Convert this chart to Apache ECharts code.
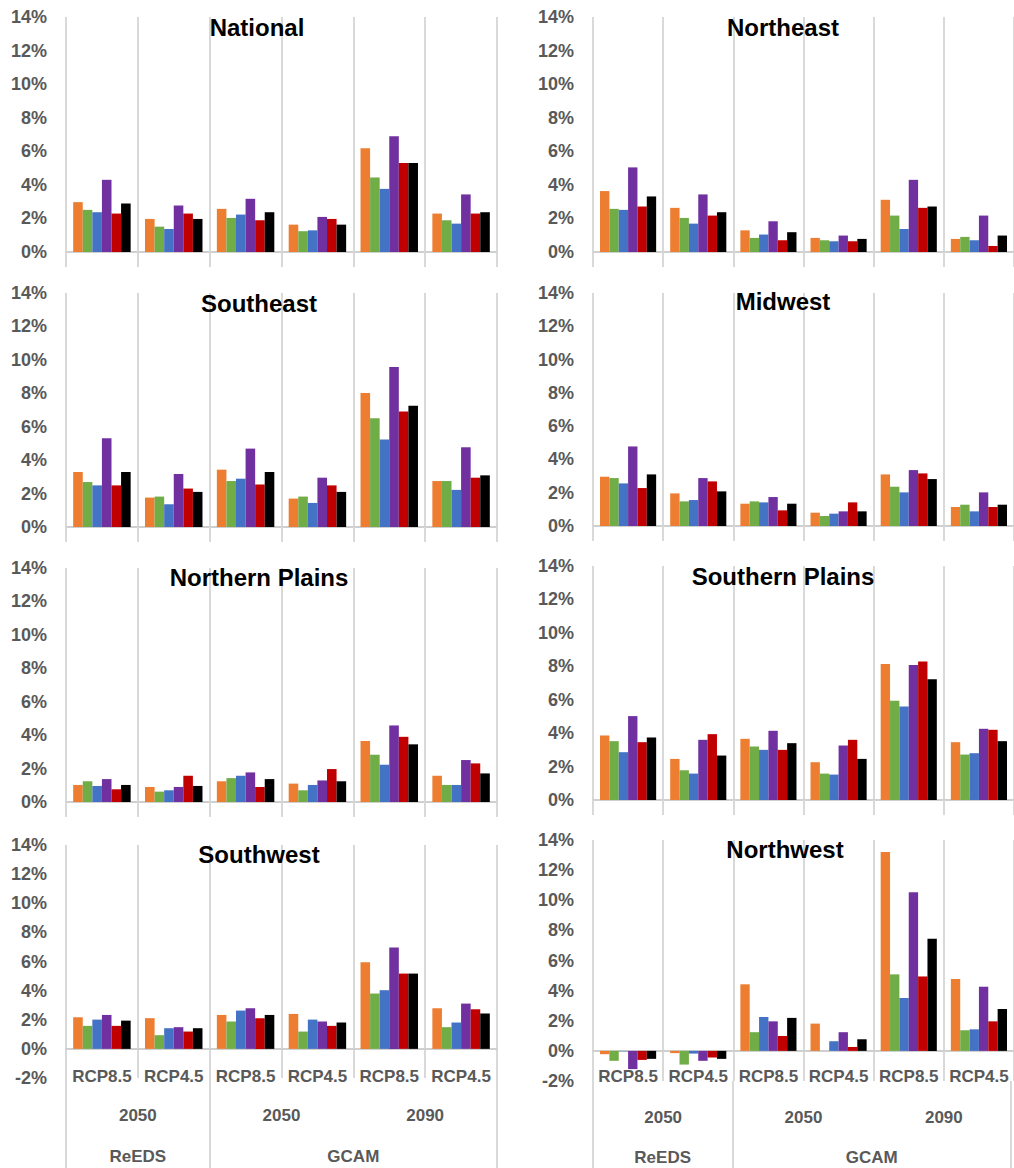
<!DOCTYPE html>
<html>
<head>
<meta charset="utf-8">
<title>Regional changes</title>
<script src="https://cdn.jsdelivr.net/npm/echarts@6.0.0/dist/echarts.min.js"></script>
<style>
  html, body { margin: 0; padding: 0; background: #fff; }
  #main { width: 1014px; height: 1168px; }
</style>
</head>
<body>
<div id="main"></div>
<script>
// category levels
const scenarios = ['RCP8.5', 'RCP4.5', 'RCP8.5', 'RCP4.5', 'RCP8.5', 'RCP4.5'];
const years = ['2050', '2050', '2090'];
const models = ['ReEDS', 'GCAM'];
const modelSpans = [2, 4]; // number of scenario groups under each model

// y ticks (percent)
const yMax = 14;
const yMin = 0;
const yMinLow = -2;
const yStep = 2;

// six bar series per panel, in colour order: orange, green, blue, purple, red, black
// each row = one series across the six scenario groups
const national = [
  [2.97, 1.97, 2.57, 1.63, 6.18, 2.29],
  [2.51, 1.51, 2.03, 1.24, 4.44, 1.89],
  [2.37, 1.37, 2.23, 1.29, 3.76, 1.69],
  [4.30, 2.77, 3.17, 2.09, 6.89, 3.43],
  [2.29, 2.29, 1.89, 1.97, 5.30, 2.29],
  [2.89, 1.97, 2.37, 1.63, 5.30, 2.37]
];
const northeast = [
  [3.63, 2.63, 1.29, 0.84, 3.11, 0.78],
  [2.57, 2.03, 0.84, 0.70, 2.17, 0.90],
  [2.51, 1.69, 1.04, 0.64, 1.37, 0.70],
  [5.04, 3.43, 1.83, 0.98, 4.30, 2.17],
  [2.71, 2.17, 0.70, 0.64, 2.63, 0.36],
  [3.31, 2.37, 1.18, 0.78, 2.71, 0.98]
];
const southeast = [
  [3.29, 1.76, 3.43, 1.70, 8.02, 2.75],
  [2.69, 1.82, 2.75, 1.82, 6.51, 2.75],
  [2.49, 1.36, 2.89, 1.44, 5.23, 2.22],
  [5.31, 3.17, 4.69, 2.95, 9.58, 4.77],
  [2.49, 2.30, 2.55, 2.49, 6.91, 2.95],
  [3.29, 2.10, 3.29, 2.10, 7.25, 3.09]
];
const midwest = [
  [2.96, 1.96, 1.34, 0.80, 3.10, 1.14],
  [2.88, 1.48, 1.48, 0.60, 2.36, 1.28],
  [2.56, 1.56, 1.42, 0.74, 2.02, 0.88],
  [4.78, 2.88, 1.74, 0.88, 3.36, 2.02],
  [2.28, 2.68, 0.94, 1.42, 3.16, 1.14],
  [3.10, 2.08, 1.34, 0.88, 2.82, 1.28]
];
const northernPlains = [
  [1.02, 0.90, 1.24, 1.10, 3.65, 1.57],
  [1.24, 0.62, 1.43, 0.70, 2.83, 1.02],
  [0.96, 0.70, 1.57, 1.02, 2.23, 1.02],
  [1.37, 0.90, 1.77, 1.29, 4.58, 2.51],
  [0.76, 1.57, 0.90, 1.97, 3.90, 2.31],
  [1.02, 0.96, 1.37, 1.24, 3.45, 1.71]
];
const southernPlains = [
  [3.86, 2.46, 3.66, 2.26, 8.14, 3.46],
  [3.52, 1.78, 3.20, 1.58, 5.94, 2.72],
  [2.86, 1.58, 3.00, 1.52, 5.60, 2.80],
  [5.02, 3.60, 4.14, 3.26, 8.08, 4.26],
  [3.46, 3.94, 3.00, 3.60, 8.28, 4.20],
  [3.74, 2.66, 3.40, 2.46, 7.22, 3.52]
];
const southwest = [
  [2.17, 2.11, 2.33, 2.40, 5.95, 2.79],
  [1.58, 0.94, 1.88, 1.19, 3.80, 1.49],
  [2.01, 1.42, 2.63, 2.01, 4.03, 1.81],
  [2.33, 1.49, 2.79, 1.88, 6.96, 3.11],
  [1.58, 1.19, 2.11, 1.58, 5.17, 2.72],
  [1.94, 1.42, 2.33, 1.81, 5.17, 2.43]
];
const northwest = [
  [-0.22, -0.15, 4.42, 1.81, 13.2, 4.77],
  [-0.66, -0.91, 1.24, 0.00, 5.08, 1.37],
  [-0.03, -0.18, 2.25, 0.64, 3.51, 1.43],
  [-1.21, -0.66, 1.96, 1.24, 10.53, 4.26],
  [-0.60, -0.44, 0.99, 0.26, 4.94, 1.96],
  [-0.53, -0.53, 2.19, 0.77, 7.44, 2.78]
];

const panels = [
  { name: 'National', values: national },
  { name: 'Northeast', values: northeast },
  { name: 'Southeast', values: southeast },
  { name: 'Midwest', values: midwest },
  { name: 'Northern Plains', values: northernPlains },
  { name: 'Southern Plains', values: southernPlains },
  { name: 'Southwest', values: southwest },
  { name: 'Northwest', values: northwest }
];

const colors = ['#ED7D31', '#70AD47', '#4472C4', '#7030A0', '#C00000', '#000000'];

// plot rectangles + title centres (px)
const layout = [
  { left: 66, width: 431, top: 17, height: 235, tx: 257, ty: 27 },
  { left: 593, width: 428, top: 17, height: 235, tx: 783, ty: 27 },
  { left: 66, width: 431, top: 293, height: 234, tx: 259, ty: 303 },
  { left: 593, width: 428, top: 293, height: 233, tx: 783, ty: 301 },
  { left: 66, width: 431, top: 568, height: 234, tx: 259, ty: 577 },
  { left: 593, width: 428, top: 566, height: 234, tx: 783, ty: 576 },
  { left: 66, width: 431, top: 845, height: 233, tx: 259, ty: 854, rcpMargin: -10, yearMargin: 29, yearTick: 52, modelMargin: 70 },
  { left: 593, width: 428, top: 840, height: 241, tx: 785, ty: 849, rcpMargin: -13, yearMargin: 28, yearTick: 50, modelMargin: 68 }
];

const font = "'Liberation Sans', Arial, sans-serif";
const gridLine = { color: '#d9d9d9', width: 2 };
const labelStyle = { color: '#595959', fontWeight: 'bold', fontSize: 17, fontFamily: font };

// model level as points on edges: label in the middle of each span
const modelEdges = [0];
modelSpans.forEach(s => modelEdges.push(modelEdges[modelEdges.length - 1] + s));
const modelPoints = new Array(scenarios.length + 1).fill('');
models.forEach((m, i) => { modelPoints[modelEdges[i] + modelSpans[i] / 2] = m; });

const grid = [], xAxis = [], yAxis = [], series = [], title = [];

panels.forEach((p, i) => {
  const L = layout[i];
  const bottomRow = i >= 6;
  grid.push({ left: L.left, top: L.top, width: L.width, height: L.height });
  title.push({
    text: p.name, left: L.tx, top: L.ty, padding: 0, textAlign: 'center', textVerticalAlign: 'middle',
    textStyle: { fontSize: 24, fontWeight: 'bold', color: '#000', fontFamily: font }
  });
  xAxis.push({
    gridIndex: i, type: 'category', data: scenarios,
    axisLine: { onZero: true, lineStyle: { color: '#cfcfcf', width: 2 } },
    axisTick: { show: !bottomRow, interval: 0, length: 15, lineStyle: gridLine },
    axisLabel: { show: false },
    splitLine: { show: true, interval: 0, lineStyle: gridLine }
  });
  yAxis.push({
    gridIndex: i, type: 'value', min: bottomRow ? yMinLow : yMin, max: yMax, interval: yStep,
    axisLabel: Object.assign({ formatter: '{value}%', margin: 19 }, labelStyle, { fontSize: 18 }),
    axisLine: { show: false }, axisTick: { show: false }, splitLine: { show: false }
  });
  colors.forEach((c, k) => {
    series.push({
      type: 'bar', xAxisIndex: i, yAxisIndex: i, data: p.values[k],
      itemStyle: { color: c }, barGap: '0%', barCategoryGap: '20%', silent: true
    });
  });
});

// category levels under the bottom row: scenario, year, model
function addLevelGrid(L) {
  const g = grid.length;
  grid.push({ left: L.left, top: L.top, width: L.width, height: L.height });
  yAxis.push({ gridIndex: g, type: 'value', show: false });
  return g;
}

[6, 7].forEach(i => {
  const L = layout[i];

  xAxis.push({
    gridIndex: addLevelGrid(L), type: 'category', data: scenarios, position: 'bottom',
    axisLine: { show: false },
    axisTick: { interval: 0, length: 2, lineStyle: gridLine },
    axisLabel: Object.assign({ interval: 0, margin: L.rcpMargin }, labelStyle),
    splitLine: { show: false }
  });

  xAxis.push({
    gridIndex: addLevelGrid(L), type: 'category', data: years, position: 'bottom',
    axisLine: { show: false },
    axisTick: { interval: 0, length: L.yearTick, lineStyle: gridLine },
    axisLabel: Object.assign({ interval: 0, margin: L.yearMargin }, labelStyle),
    splitLine: { show: false }
  });

  xAxis.push({
    gridIndex: addLevelGrid(L), type: 'category', data: modelPoints, boundaryGap: false, position: 'bottom',
    axisLine: { show: false },
    axisTick: { interval: idx => modelEdges.includes(idx), length: 110, lineStyle: gridLine },
    axisLabel: Object.assign({ interval: 0, margin: L.modelMargin }, labelStyle),
    splitLine: { show: false }
  });
});

const chart = echarts.init(document.getElementById('main'), null, { renderer: 'svg' });
chart.setOption({
  backgroundColor: '#fff',
  animation: false,
  title: title,
  grid: grid,
  xAxis: xAxis,
  yAxis: yAxis,
  series: series
});
</script>
</body>
</html>
